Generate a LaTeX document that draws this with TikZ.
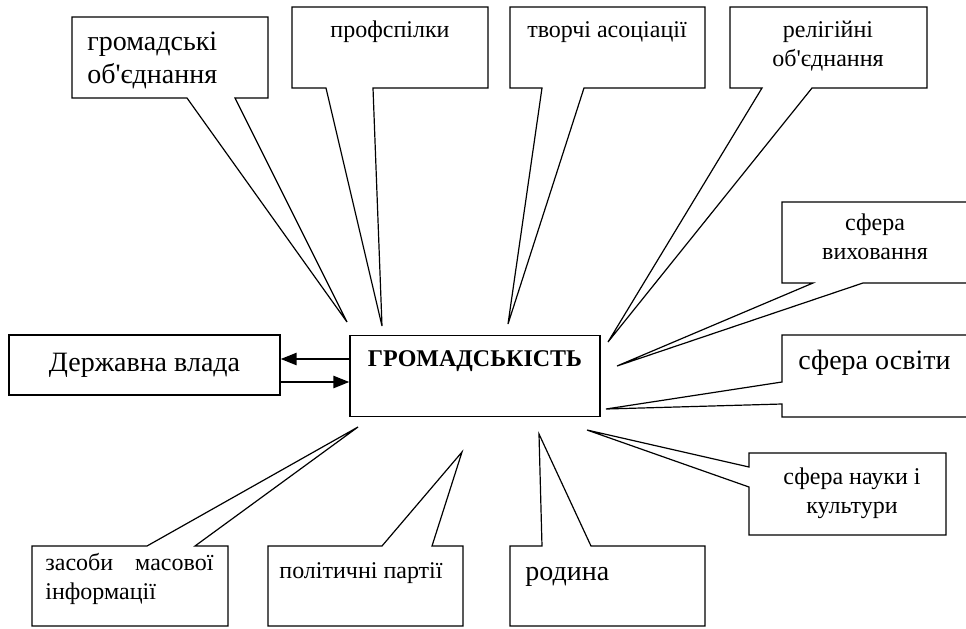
\documentclass[tikz,border=0pt]{standalone}
\usepackage{fontspec}
\setmainfont{Liberation Serif}
\usepackage{tikz}
\usetikzlibrary{arrows.meta,positioning}

\begin{document}
\begin{tikzpicture}[x=0.5pt,y=-0.5pt,bubble/.style={draw, line width=0.6pt, line join=miter}]
        \tikzstyle{big} = [inner sep=0, font=\fontsize{14}{16.5}\selectfont]
        \tikzstyle{small} = [inner sep=0, font=\fontsize{12}{14.5}\selectfont]
        \tikzstyle{link} = [-{Triangle[length=8pt,width=6pt]}, line width=1.2pt]
        \useasboundingbox (0,0) rectangle (966,628);

        \node[draw, line width=0.6pt, big, minimum width=135.5pt, minimum height=30pt] (vlada) at (144.5,365) {Державна влада};
        \node[draw, line width=0.6pt, inner sep=0, anchor=north, minimum width=125pt, text height=15.5pt, text depth=25pt, font=\fontsize{12}{14}\selectfont\bfseries] (gromad) at (475,335) {ГРОМАДСЬКІСТЬ};

        \draw[link] (gromad.west |- 0,359) -- (vlada.east |- 0,359);
        \draw[link] (vlada.east |- 0,382) -- (gromad.west |- 0,382);

        \draw[bubble] (72,17) -- (268,17) -- (268,98) -- (235,98) -- (347,322) -- (187,98) -- (72,98) -- cycle;
        \draw[bubble] (292,7) -- (488,7) -- (488,88) -- (373,88) -- (382,326) -- (326,88) -- (292,88) -- cycle;
        \draw[bubble] (510,7) -- (705,7) -- (705,88) -- (584,88) -- (508,324) -- (542,88) -- (510,88) -- cycle;
        \draw[bubble] (730,7) -- (927,7) -- (927,88) -- (812,88) -- (608,342) -- (762,88) -- (730,88) -- cycle;
        \draw[bubble] (782,202) -- (968,202) -- (968,283) -- (863,283) -- (617,366) -- (813,283) -- (782,283) -- cycle;
        \draw[bubble] (782,335) -- (968,335) -- (968,417) -- (782,417) -- (782,404) -- (606,409) -- (782,382) -- cycle;
        \draw[bubble] (749,453) -- (946,453) -- (946,535) -- (749,535) -- (749,487) -- (587,430) -- (749,467) -- cycle;
        \draw[bubble] (510,546) -- (542,546) -- (539,434) -- (591,546) -- (705,546) -- (705,626) -- (510,626) -- cycle;
        \draw[bubble] (268,546) -- (382,546) -- (462,452) -- (432,546) -- (463,546) -- (463,626) -- (268,626) -- cycle;
        \draw[bubble] (32,546) -- (147,546) -- (358,427) -- (195,546) -- (228,546) -- (228,626) -- (32,626) -- cycle;

        \node[big, anchor=base west, align=left] (hromad) at (87,83) {громадські\\об\textquotesingle єднання};
        \node[small, anchor=base] (profsp) at (390,37) {профспілки};
        \node[small, anchor=base] (tvorchi) at (607,37) {творчі асоціації};
        \node[small, anchor=base, align=center] (relig) at (828,66) {релігійні\\об\textquotesingle єднання};
        \node[small, anchor=base, align=center] (vykhov) at (875,259) {сфера\\виховання};
        \node[big, anchor=base west] (osvita) at (798,369) {сфера освіти};
        \node[small, anchor=base, align=center] (nauka) at (852,513) {сфера науки і\\культури};
        \node[big, anchor=base west] (rodyna) at (525,580) {родина};
        \node[small, anchor=base] (partii) at (361,578) {політичні партії};
        \node[small, anchor=base west, align=left] (zmi) at (45,599) {\makebox[84pt][s]{засоби масової}\\інформації};
\end{tikzpicture}
\end{document}
